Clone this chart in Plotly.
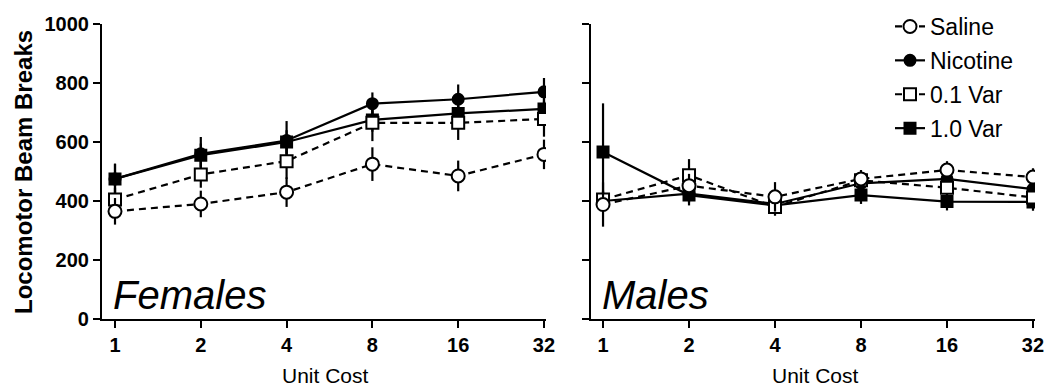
import plotly.graph_objects as go

unit_cost = [1, 2, 4, 8, 16, 32]
tick_labels = ["1", "2", "4", "8", "16", "32"]
y_ticks = [0, 200, 400, 600, 800, 1000]
series_names = ["Saline", "Nicotine", "0.1 Var", "1.0 Var"]

# Females
f_saline = [365, 390, 430, 525, 485, 558]
f_saline_err = [45, 45, 50, 57, 52, 50]
f_nicotine = [475, 560, 605, 730, 745, 770]
f_nicotine_err = [52, 57, 66, 38, 50, 47]
f_var01 = [405, 490, 535, 665, 665, 678]
f_var01_err = [40, 45, 60, 62, 58, 60]
f_var10 = [475, 555, 600, 675, 697, 712]
f_var10_err = [50, 40, 40, 40, 40, 40]

# Males
m_saline = [388, 452, 414, 475, 505, 481]
m_saline_err = [75, 40, 50, 30, 30, 30]
m_nicotine = [400, 425, 390, 460, 475, 440]
m_nicotine_err = [30, 30, 30, 30, 40, 35]
m_var01 = [405, 487, 380, 470, 445, 412]
m_var01_err = [30, 55, 30, 30, 35, 30]
m_var10 = [566, 420, 385, 420, 398, 397]
m_var10_err = [165, 35, 30, 30, 30, 30]

W, H = 1045, 387
FONT = "Arial, Liberation Sans, sans-serif"

styles = {
    "Saline": dict(symbol="circle", fill="white", dash="7px,5px", size=13),
    "Nicotine": dict(symbol="circle", fill="black", dash="solid", size=11),
    "0.1 Var": dict(symbol="square", fill="white", dash="7px,5px", size=12),
    "1.0 Var": dict(symbol="square", fill="black", dash="solid", size=11),
}

panels = [
    ("x", "y", [f_saline, f_nicotine, f_var01, f_var10],
     [f_saline_err, f_nicotine_err, f_var01_err, f_var10_err], False),
    ("x2", "y2", [m_saline, m_nicotine, m_var01, m_var10],
     [m_saline_err, m_nicotine_err, m_var01_err, m_var10_err], True),
]

fig = go.Figure()
draw_order = [3, 1, 2, 0]
for xa, ya, vals, errs, show in panels:
    for i in draw_order:
        name = series_names[i]
        st = styles[name]
        fig.add_trace(go.Scatter(
            x=unit_cost, y=vals[i], name=name, xaxis=xa, yaxis=ya,
            mode="lines+markers",
            line=dict(color="black", width=2.2, dash=st["dash"]),
            marker=dict(symbol=st["symbol"], size=st["size"], color=st["fill"],
                        line=dict(color="black", width=2)),
            error_y=dict(type="data", array=errs[i], color="black",
                         thickness=2.2, width=0),
            showlegend=show, legendgroup=name, legendrank=i,
        ))


def px_x(p):
    return p / W


def px_y(p):
    return 1 - p / H


x_common = dict(
    type="log", showgrid=False, zeroline=False, showline=True, automargin=False,
    linecolor="black", linewidth=2.2, ticks="outside", ticklen=7,
    tickwidth=2, tickcolor="black",
    tickvals=unit_cost, ticktext=tick_labels,
    tickfont=dict(family=FONT, size=20, color="black", weight="bold"),
)
y_common = dict(
    range=[0, 1000], domain=[px_y(319), px_y(24)],
    showgrid=False, zeroline=False, showline=True, automargin=False,
    linecolor="black", linewidth=2.2, ticks="outside", ticklen=7,
    tickwidth=2, tickcolor="black", tickvals=y_ticks,
    tickfont=dict(family=FONT, size=20, color="black", weight="bold"),
)

fig.update_layout(
    width=W, height=H, margin=dict(l=0, r=0, t=0, b=0, autoexpand=False),
    paper_bgcolor="white", plot_bgcolor="white",
    xaxis=dict(domain=[px_x(102), px_x(546)], range=[-0.0456, 1.5122],
               anchor="y", **x_common),
    xaxis2=dict(domain=[px_x(591), px_x(1035)], range=[-0.0421, 1.5122],
                anchor="y2", **x_common),
    yaxis=dict(anchor="x", **y_common),
    yaxis2=dict(anchor="x2", showticklabels=False, **y_common),
    legend=dict(x=px_x(890), y=px_y(5), xanchor="left", yanchor="top",
                bgcolor="rgba(0,0,0,0)", font=dict(family=FONT, size=23, color="black"),
                traceorder="grouped", tracegroupgap=1, itemwidth=30),
    annotations=[
        dict(text="Locomotor Beam Breaks", xref="paper", yref="paper",
             x=px_x(23), y=px_y(172), xanchor="center", yanchor="middle",
             textangle=-90, showarrow=False,
             font=dict(family=FONT, size=24, color="black", weight="bold")),
        dict(text="Unit Cost", xref="paper", yref="paper",
             x=px_x(325), y=px_y(375), xanchor="center", yanchor="middle",
             showarrow=False, font=dict(family=FONT, size=21, color="black")),
        dict(text="Unit Cost", xref="paper", yref="paper",
             x=px_x(815), y=px_y(375), xanchor="center", yanchor="middle",
             showarrow=False, font=dict(family=FONT, size=21, color="black")),
        dict(text="<i>Females</i>", xref="paper", yref="paper",
             x=px_x(111), y=px_y(295), xanchor="left", yanchor="middle",
             showarrow=False, font=dict(family=FONT, size=40, color="black")),
        dict(text="<i>Males</i>", xref="paper", yref="paper",
             x=px_x(600), y=px_y(295), xanchor="left", yanchor="middle",
             showarrow=False, font=dict(family=FONT, size=40, color="black")),
    ],
)

fig.write_html("out.html")
